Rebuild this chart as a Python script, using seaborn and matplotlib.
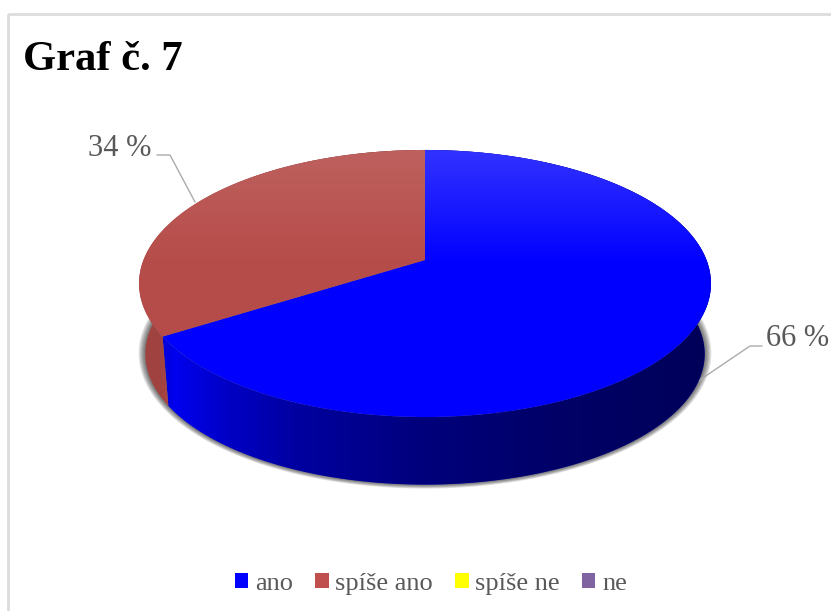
import numpy as np
import matplotlib
matplotlib.use("Agg")
import matplotlib.pyplot as plt
from matplotlib.transforms import Transform
from matplotlib.patches import Polygon, Rectangle
import seaborn as sns

# data
categories = ["ano", "spíše ano", "spíše ne", "ne"]
values = [66, 34, 0, 0]
data_labels = ["66 %", "34 %"]
title = "Graf č. 7"
colors = ["#0000ff", "#c0504d", "#ffff00", "#8064a2"]

sns.set_theme(style="white")
plt.rcParams["font.family"] = ["Liberation Serif", "DejaVu Serif"]
palette = sns.color_palette(colors)

W, H = 831, 611
fig = plt.figure(figsize=(W / 100, H / 100), dpi=100, facecolor="white")
ax = fig.add_axes([0, 0, 1, 1])

# perspective of the disc, in picture pixels
CX, CY, A, B, K = 425.0, 260.0, 281.5, 129.4, 0.176
SCALE, CY2 = 0.978, 331.0


def project(x, y, s=1.0, cy=CY):
    w = 1 + K * y
    return CX + s * A * x / w, cy - s * B * y / w


class Perspective(Transform):
    input_dims = output_dims = 2
    has_inverse = False
    is_separable = False

    def transform_non_affine(self, values):
        v = np.asarray(values, dtype=float)
        px, py = project(v[:, 0], v[:, 1])
        return np.column_stack([px, py])


wedges, _ = ax.pie(values, colors=palette, startangle=90, counterclock=False,
                   wedgeprops={"linewidth": 0})
ax.set_aspect("auto")
ax.set_xlim(0, W)
ax.set_ylim(H, 0)
ax.set_xticks([])
ax.set_yticks([])
ax.set_frame_on(False)

persp = Perspective() + ax.transData
for wd in wedges:
    wd.set_transform(persp)
    wd.set_zorder(5)

# soft shadow below the wall
ring = np.radians(np.linspace(0, 360, 361))
for grow in range(1, 7):
    sx, sy = project(np.cos(ring), np.sin(ring), SCALE, CY2)
    sx = CX + (sx - CX) * (1 + grow / 250)
    sy = CY2 + 40 + (sy - CY2 - 40) * (1 + grow / 170)
    ax.add_patch(Polygon(np.column_stack([sx, sy]), closed=True, fc="black",
                         ec="none", alpha=0.11, zorder=1))

# outer wall of each wedge, darkened from left to right
shade_x = np.array([130, 160, 175, 230, 300, 425, 560, 720])
shade_a = np.array([0.17, 0.17, 0.07, 0.24, 0.38, 0.52, 0.60, 0.66])
xs = np.arange(W)
alpha_row = np.interp(xs, shade_x, shade_a)
shade = np.zeros((1, W, 4))
shade[..., 3] = alpha_row
for wd, col in zip(wedges[:2], palette):
    t = np.radians(np.linspace(wd.theta1, wd.theta2, 300))
    tx, ty = project(np.cos(t), np.sin(t))
    bx, by = project(np.cos(t), np.sin(t), SCALE, CY2)
    poly = Polygon(np.column_stack([np.r_[tx, bx[::-1]], np.r_[ty, by[::-1]]]),
                   closed=True, fc=col, ec="none", zorder=2)
    ax.add_patch(poly)
    im = ax.imshow(shade, extent=(0, W, H, 0), aspect="auto", zorder=3,
                   interpolation="bilinear")
    im.set_clip_path(poly)

# light falling on the top surface
for wd, top_alpha in zip(wedges[:2], [0.2, 0.13]):
    glow = np.ones((H, 1, 4))
    glow[:, :, 3] = np.interp(np.arange(H), [150, 265], [top_alpha, 0.0])[:, None]
    im = ax.imshow(glow, extent=(0, W, H, 0), aspect="auto", zorder=6)
    im.set_clip_path(wd)
dark = np.zeros((H, 1, 4))
dark[:, :, 3] = 0.05
im = ax.imshow(dark, extent=(0, W, H, 0), aspect="auto", zorder=6)
im.set_clip_path(wedges[1])
ax.set_xlim(0, W)
ax.set_ylim(H, 0)

# chart frame
ax.add_patch(Rectangle((8, 14), W, H, fill=False, ec="#dcdcdc", lw=2, zorder=0))

# title
ax.text(23, 60, title, fontsize=30.7, fontweight="bold", color="black",
        ha="left", va="center", zorder=10)

# data labels and leaders
lead = "#ababab"
ax.plot([157, 170, 195], [155, 155, 202], color=lead, lw=1, zorder=1.5)
ax.plot([762, 750, 688], [346, 346, 388], color=lead, lw=1, zorder=1.5)
ax.text(88, 148, data_labels[1], fontsize=22, color="#595959",
        ha="left", va="center", zorder=10)
ax.text(766, 339, data_labels[0], fontsize=22, color="#595959",
        ha="left", va="center", zorder=10)

# legend
ax.legend(wedges, categories, loc="center", bbox_to_anchor=(431 / W, 1 - 584 / H),
          bbox_transform=fig.transFigure, ncol=4, frameon=False, fontsize=19,
          labelcolor="#595959", handlelength=0.5, handleheight=0.5,
          handletextpad=0.25, columnspacing=0.85, borderpad=0, borderaxespad=0)

fig.savefig("out.png", dpi=100, facecolor="white")
